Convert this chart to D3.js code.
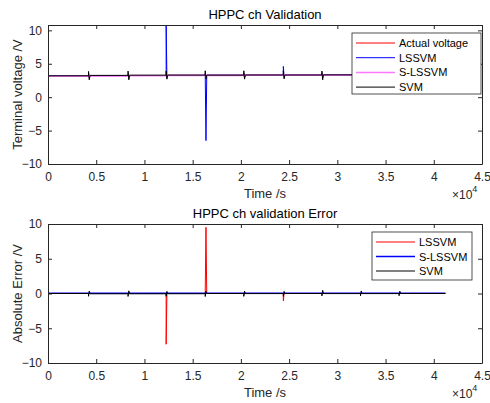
<!DOCTYPE html>
<html>
<head>
<meta charset="utf-8">
<script src="https://cdn.jsdelivr.net/npm/d3@7"></script>
<style>
  body { margin: 0; background: #fff; }
  svg { display: block; font-family: "Liberation Sans", Arial, sans-serif; }
</style>
</head>
<body>
<script>
// pulse start times (s) and end of record
const pulseTimes = [4200, 8300, 12250, 16300, 20300, 24400, 28400, 32400, 36400];
const endTime = 41200;

// terminal voltage per rest segment, plus pulse peaks (up then down)
const actualLevel = [3.20, 3.22, 3.25, 3.27, 3.29, 3.30, 3.31, 3.32, 3.33, 3.34];
const actualUp    = [3.45, 3.48, 3.50, 3.52, 3.54, 3.55, 3.56, 3.57, 3.58];
const actualDown  = [2.95, 2.98, 3.00, 3.02, 3.04, 3.05, 3.06, 3.07, 3.08];

const lssvmLevel = [3.20, 3.22, 3.25, 3.27, 3.29, 3.30, 3.31, 3.32, 3.33, 3.34];
const lssvmUp    = [3.45, 3.48, 10.8, 3.52, 3.54, 4.60, 3.56, 3.57, 3.58];
const lssvmDown  = [2.95, 2.98, 3.00, -6.5, 3.04, 3.05, 3.06, 3.07, 3.08];

const slssvmLevel = [3.15, 3.18, 3.22, 3.24, 3.26, 3.27, 3.28, 3.29, 3.30, 3.31];
const slssvmUp    = [3.42, 3.45, 3.47, 3.50, 3.52, 3.53, 3.54, 3.55, 3.56];
const slssvmDown  = [2.93, 2.96, 2.98, 3.00, 3.02, 3.03, 3.04, 3.05, 3.06];

const svmLevel = [3.20, 3.26, 3.29, 3.30, 3.29, 3.31, 3.31, 3.33, 3.34, 3.34];
const svmUp    = [3.85, 3.90, 3.90, 3.95, 3.95, 3.95, 3.90, 3.90, 3.90];
const svmDown  = [2.60, 2.60, 2.70, 2.70, 2.70, 2.75, 2.60, 2.70, 2.75];

const xTicks = [0, 0.5, 1, 1.5, 2, 2.5, 3, 3.5, 4, 4.5];
const yTicks = [-10, -5, 0, 5, 10];

function buildSeries(level, up, down) {
  const pts = [[0, level[0]]];
  pulseTimes.forEach((p, i) => {
    pts.push([p, level[i]]);
    pts.push([p + 1, up[i]]);
    pts.push([p + 80, down[i]]);
    pts.push([p + 160, level[i + 1]]);
  });
  pts.push([endTime, level[level.length - 1]]);
  return pts;
}

const actual = buildSeries(actualLevel, actualUp, actualDown);
const lssvm = buildSeries(lssvmLevel, lssvmUp, lssvmDown);
const slssvm = buildSeries(slssvmLevel, slssvmUp, slssvmDown);
const svm = buildSeries(svmLevel, svmUp, svmDown);
const errOf = (pred) => pred.map((d, i) => [d[0], actual[i][1] - d[1]]);

const W = 490, H = 403;
const axCol = "#262626";
const svg = d3.select("body").append("svg").attr("width", W).attr("height", H);

function drawPanel(cfg) {
  const x = d3.scaleLinear().domain([0, 45000]).range([48, 482]);
  const y = d3.scaleLinear().domain(cfg.yDomain).range([cfg.bottom, cfg.top]);
  const g = svg.append("g");

  const clipId = "clip" + cfg.top;
  svg.append("clipPath").attr("id", clipId).append("rect")
    .attr("x", 48).attr("y", cfg.top).attr("width", 434).attr("height", cfg.bottom - cfg.top);

  const line = d3.line().x(d => x(d[0])).y(d => y(d[1]));
  const plot = g.append("g").attr("clip-path", "url(#" + clipId + ")");
  cfg.series.forEach(s => {
    plot.append("path").attr("d", line(s.data)).attr("fill", "none")
      .attr("stroke", s.color).attr("stroke-width", s.width);
  });

  // axes: MATLAB box with inward ticks
  const xAx = g.append("g").attr("transform", "translate(0," + cfg.bottom + ")")
    .call(d3.axisBottom(x).tickValues(xTicks.map(v => v * 1e4)).tickSizeInner(-4).tickSizeOuter(0)
      .tickPadding(8).tickFormat(v => d3.format("~g")(v / 1e4)));
  const xTop = g.append("g").attr("transform", "translate(0," + cfg.top + ")")
    .call(d3.axisTop(x).tickValues(xTicks.map(v => v * 1e4)).tickSizeInner(-4).tickSizeOuter(0).tickFormat(""));
  const yAx = g.append("g").attr("transform", "translate(48,0)")
    .call(d3.axisLeft(y).tickValues(yTicks).tickSizeInner(-4).tickSizeOuter(0).tickPadding(6));
  const yRight = g.append("g").attr("transform", "translate(482,0)")
    .call(d3.axisRight(y).tickValues(yTicks).tickSizeInner(-4).tickSizeOuter(0).tickFormat(""));
  [xAx, xTop, yAx, yRight].forEach(a => {
    a.selectAll("path").attr("stroke", axCol);
    a.selectAll("line").attr("stroke", axCol);
    a.selectAll("text").attr("fill", axCol).style("font-size", "12px").style("font-family", "Liberation Sans, Arial, sans-serif");
  });

  // exponent
  const ex = g.append("text").attr("x", 452).attr("y", cfg.bottom + 35).attr("fill", axCol)
    .style("font-size", "12px");
  ex.append("tspan").text("\u00d710");
  ex.append("tspan").attr("dy", -7).style("font-size", "9px").text("4");

  g.append("text").attr("x", 265).attr("y", cfg.top - 6).attr("text-anchor", "middle")
    .attr("fill", "#000").style("font-size", "13px").text(cfg.title);
  g.append("text").attr("x", 265).attr("y", cfg.bottom + 34).attr("text-anchor", "middle")
    .attr("fill", axCol).style("font-size", "13px").text("Time /s");
  g.append("text").attr("transform", "translate(22," + ((cfg.top + cfg.bottom) / 2) + ") rotate(-90)")
    .attr("text-anchor", "middle").attr("fill", axCol).style("font-size", "13px").text(cfg.ylabel);

  // legend
  const L = cfg.legend;
  const lg = g.append("g");
  lg.append("rect").attr("x", L.x).attr("y", L.y).attr("width", L.w).attr("height", L.h)
    .attr("fill", "#fff").attr("stroke", axCol).attr("stroke-width", 0.8);
  L.items.forEach((it, i) => {
    const yy = L.y + 10 + i * L.step;
    lg.append("line").attr("x1", L.x + 4).attr("x2", L.x + 43).attr("y1", yy).attr("y2", yy)
      .attr("stroke", it.color).attr("stroke-width", it.width);
    lg.append("text").attr("x", L.x + 47).attr("y", yy + 4).attr("fill", "#000")
      .style("font-size", "11px").text(it.name);
  });
}

drawPanel({
  top: 25, bottom: 164, yDomain: [-10, 10.8],
  title: "HPPC ch Validation", ylabel: "Terminal voltage /V",
  series: [
    { data: actual, color: "#ff0000", width: 1 },
    { data: lssvm, color: "#0000ff", width: 1 },
    { data: slssvm, color: "#ff77ff", width: 1.5 },
    { data: svm, color: "#000000", width: 1 }
  ],
  legend: { x: 352, y: 33, w: 129, h: 61, step: 14.7, items: [
    { name: "Actual voltage", color: "#ff0000", width: 1 },
    { name: "LSSVM", color: "#0000ff", width: 1 },
    { name: "S-LSSVM", color: "#ff77ff", width: 1.5 },
    { name: "SVM", color: "#000000", width: 1 }
  ] }
});

drawPanel({
  top: 224, bottom: 363, yDomain: [-10, 10],
  title: "HPPC ch validation Error", ylabel: "Absolute Error /V",
  series: [
    { data: errOf(lssvm), color: "#ff0000", width: 1 },
    { data: errOf(slssvm), color: "#0000ff", width: 1.5 },
    { data: errOf(svm), color: "#000000", width: 1 }
  ],
  legend: { x: 372, y: 232, w: 100, h: 48, step: 14.5, items: [
    { name: "LSSVM", color: "#ff0000", width: 1 },
    { name: "S-LSSVM", color: "#0000ff", width: 1.5 },
    { name: "SVM", color: "#000000", width: 1 }
  ] }
});
</script>
</body>
</html>
